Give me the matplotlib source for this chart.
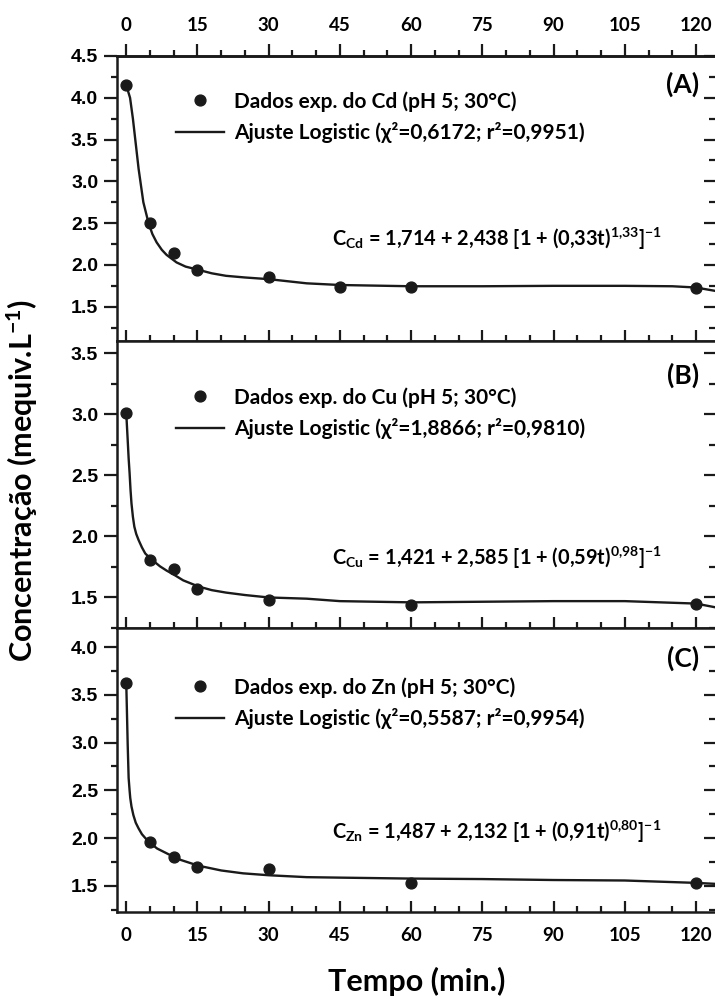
import matplotlib
matplotlib.use("Agg")
import matplotlib.pyplot as plt
from matplotlib.ticker import MultipleLocator

plt.rcParams['font.family'] = ['Lato', 'DejaVu Sans']
plt.rcParams['font.weight'] = 'bold'
plt.rcParams['mathtext.fontset'] = 'custom'
plt.rcParams['mathtext.rm'] = 'Lato:bold'
plt.rcParams['mathtext.it'] = 'Lato:bold'
plt.rcParams['mathtext.bf'] = 'Lato:bold'
plt.rcParams['mathtext.default'] = 'rm'
plt.rcParams['axes.unicode_minus'] = False

# experimental points (min, mequiv/L)
tCd = [0, 5, 10, 15, 30, 45, 60, 120]
cCd = [4.15, 2.50, 2.14, 1.94, 1.85, 1.74, 1.74, 1.73]
tCu = [0, 5, 10, 15, 30, 60, 120]
cCu = [3.01, 1.81, 1.73, 1.57, 1.48, 1.44, 1.45]
tZn = [0, 5, 10, 15, 30, 60, 120]
cZn = [3.62, 1.955, 1.80, 1.70, 1.68, 1.53, 1.525]

# fitted curves
fitTCd = [0, 0.8, 1.4, 1.9, 2.6, 3.6, 4.7, 5.5, 6.4, 7.5, 8.5, 10.6, 12.5, 15.3, 18, 21, 25, 30,
          38, 45, 60, 75, 90, 105, 115, 120, 124]
fitCd = [4.15, 4.00, 3.75, 3.50, 3.15, 2.75, 2.50, 2.37, 2.27, 2.18, 2.12, 2.03, 1.98, 1.94, 1.90, 1.87, 1.85, 1.83,
         1.78, 1.76, 1.745, 1.745, 1.75, 1.75, 1.745, 1.73, 1.69]
fitTCu = [0, 0.3, 0.5, 0.7, 0.9, 1.1, 1.4, 1.7, 2.1, 2.6, 3.3, 4.0, 4.8, 6, 7.1, 8.5, 9.9, 12, 15.2, 18, 21, 25, 30,
          38, 45, 60, 75, 90, 105, 120, 124]
fitCu = [3.01, 2.79, 2.64, 2.52, 2.38, 2.27, 2.16, 2.08, 2.02, 1.97, 1.91, 1.86, 1.83, 1.79, 1.755, 1.72, 1.69, 1.64,
         1.59, 1.56, 1.54, 1.52, 1.50, 1.49, 1.47, 1.46, 1.465, 1.47, 1.47, 1.45, 1.42]
fitTZn = [0, 0.14, 0.3, 0.5, 0.7, 0.84, 1.1, 1.5, 2, 2.6, 3.3, 4.0, 5.0, 6.5, 8.9, 11.5, 15.2, 20, 24.6, 30,
          38, 45, 60, 75, 90, 105, 120, 124]
fitZn = [3.62, 3.33, 2.98, 2.63, 2.50, 2.42, 2.33, 2.24, 2.16, 2.10, 2.04, 2.00, 1.95, 1.89, 1.83, 1.77, 1.71, 1.66,
         1.63, 1.61, 1.59, 1.585, 1.575, 1.57, 1.56, 1.555, 1.53, 1.52]

metals = ['Cd', 'Cu', 'Zn']
panelTags = ['(A)', '(B)', '(C)']
chi2 = ['0,6172', '1,8866', '0,5587']
r2 = ['0,9951', '0,9810', '0,9954']
eqA = ['1,714', '1,421', '1,487']
eqB = ['2,438', '2,585', '2,132']
eqK = ['0,33', '0,59', '0,91']
eqP = ['1{,}33', '0{,}98', '0{,}80']
yLims = [(1.09, 4.48), (1.25, 3.60), (1.225, 4.2)]
yTops = [4.5, 3.5, 4.0]
xTicks = [0, 15, 30, 45, 60, 75, 90, 105, 120]

pts = [(tCd, cCd), (tCu, cCu), (tZn, cZn)]
fits = [(fitTCd, fitCd), (fitTCu, fitCu), (fitTZn, fitZn)]

W, H = 715, 1002
fig = plt.figure(figsize=(W / 100, H / 100), dpi=100)

left = 117 / W
panelPx = [(56, 341), (341, 628), (628, 912)]
legTop = [91, 387, 677]
eqY = [239, 558, 832]
tagY = [84, 375, 658]
ink = '#1a1a1a'

for i in range(3):
    top, bot = panelPx[i]
    ax = fig.add_axes([left, 1 - bot / H, 1 - left, (bot - top) / H])
    t, c = pts[i]
    ft, fc = fits[i]
    hLine, = ax.plot(ft, fc, color=ink, lw=1.7, zorder=2)
    hPts, = ax.plot(t, c, 'o', color=ink, ms=7.8, zorder=3, linestyle='none')

    ax.set_xlim(-1.95, 124)
    ax.set_ylim(*yLims[i])
    ax.set_xticks(xTicks)
    ax.xaxis.set_minor_locator(MultipleLocator(5))
    yt = [v / 2 for v in range(3, int(yTops[i] * 2) + 1)]
    ax.set_yticks(yt)
    ax.yaxis.set_minor_locator(MultipleLocator(0.25))
    ax.set_yticklabels(['%.1f' % v for v in yt])
    for lab in ax.get_yticklabels():
        lab.set_fontfamily(['Liberation Sans'])
        lab.set_fontweight('bold')
        lab.set_fontsize(14)

    for s in ax.spines.values():
        s.set_linewidth(1.8)
        s.set_color(ink)
    ax.spines['right'].set_visible(False)

    ax.tick_params(axis='x', which='both', direction='in', top=False, bottom=True,
                   labelbottom=(i == 2), labelsize=13.5, width=1.6, color=ink, pad=11)
    ax.tick_params(axis='x', which='major', length=8)
    ax.tick_params(axis='x', which='minor', length=4)
    ax.tick_params(axis='y', which='both', direction='out', right=False, width=1.6,
                   color=ink, pad=4)
    ax.tick_params(axis='y', which='major', length=9.5)
    ax.tick_params(axis='y', which='minor', length=4.5)

    rax = ax.secondary_yaxis('right')
    rax.set_yticks(yt)
    rax.yaxis.set_minor_locator(MultipleLocator(0.25))
    rax.tick_params(axis='y', which='both', direction='in', labelright=False, width=1.6, color=ink)
    rax.tick_params(axis='y', which='major', length=8)
    rax.tick_params(axis='y', which='minor', length=4)
    rax.spines['right'].set_visible(False)

    if i == 0:
        tax = ax.secondary_xaxis('top')
        tax.set_xticks(xTicks)
        tax.xaxis.set_minor_locator(MultipleLocator(5))
        tax.tick_params(axis='x', which='both', direction='out', width=1.6, color=ink,
                        labelsize=13.5, pad=7)
        tax.tick_params(axis='x', which='major', length=9)
        tax.tick_params(axis='x', which='minor', length=4.5)
        tax.spines['top'].set_linewidth(1.8)

    ax.legend([hPts, hLine],
              ['Dados exp. do %s (pH 5; 30°C)' % metals[i],
               'Ajuste Logistic (χ²=%s; r²=%s)' % (chi2[i], r2[i])],
              loc='upper left',
              bbox_to_anchor=((176 - 117) / (W - 117), 1 - (legTop[i] - top) / (bot - top)),
              frameon=False, fontsize=15, handlelength=2.3, handletextpad=0.5,
              borderpad=0, borderaxespad=0, labelspacing=0.5, numpoints=1)

    ax.text(332 / W, 1 - eqY[i] / H,
            r'C$_{\mathrm{%s}}$ = %s + %s [1 + (%st)$^{\mathrm{%s}}$]$^{\mathrm{-1}}$'
            % (metals[i], eqA[i], eqB[i], eqK[i], eqP[i]),
            transform=fig.transFigure, fontsize=14.4, ha='left', va='center')
    ax.text(699 / W, 1 - tagY[i] / H, panelTags[i], transform=fig.transFigure,
            fontsize=19, ha='right', va='center')

fig.text(22 / W, 1 - 480 / H, r'Concentração (mequiv.L$^{\mathrm{-1}}$)', rotation=90,
         ha='center', va='center', fontsize=22)
fig.text(417 / W, 1 - 981 / H, 'Tempo (min.)', ha='center', va='center', fontsize=22)

fig.savefig('out.png', dpi=100)
